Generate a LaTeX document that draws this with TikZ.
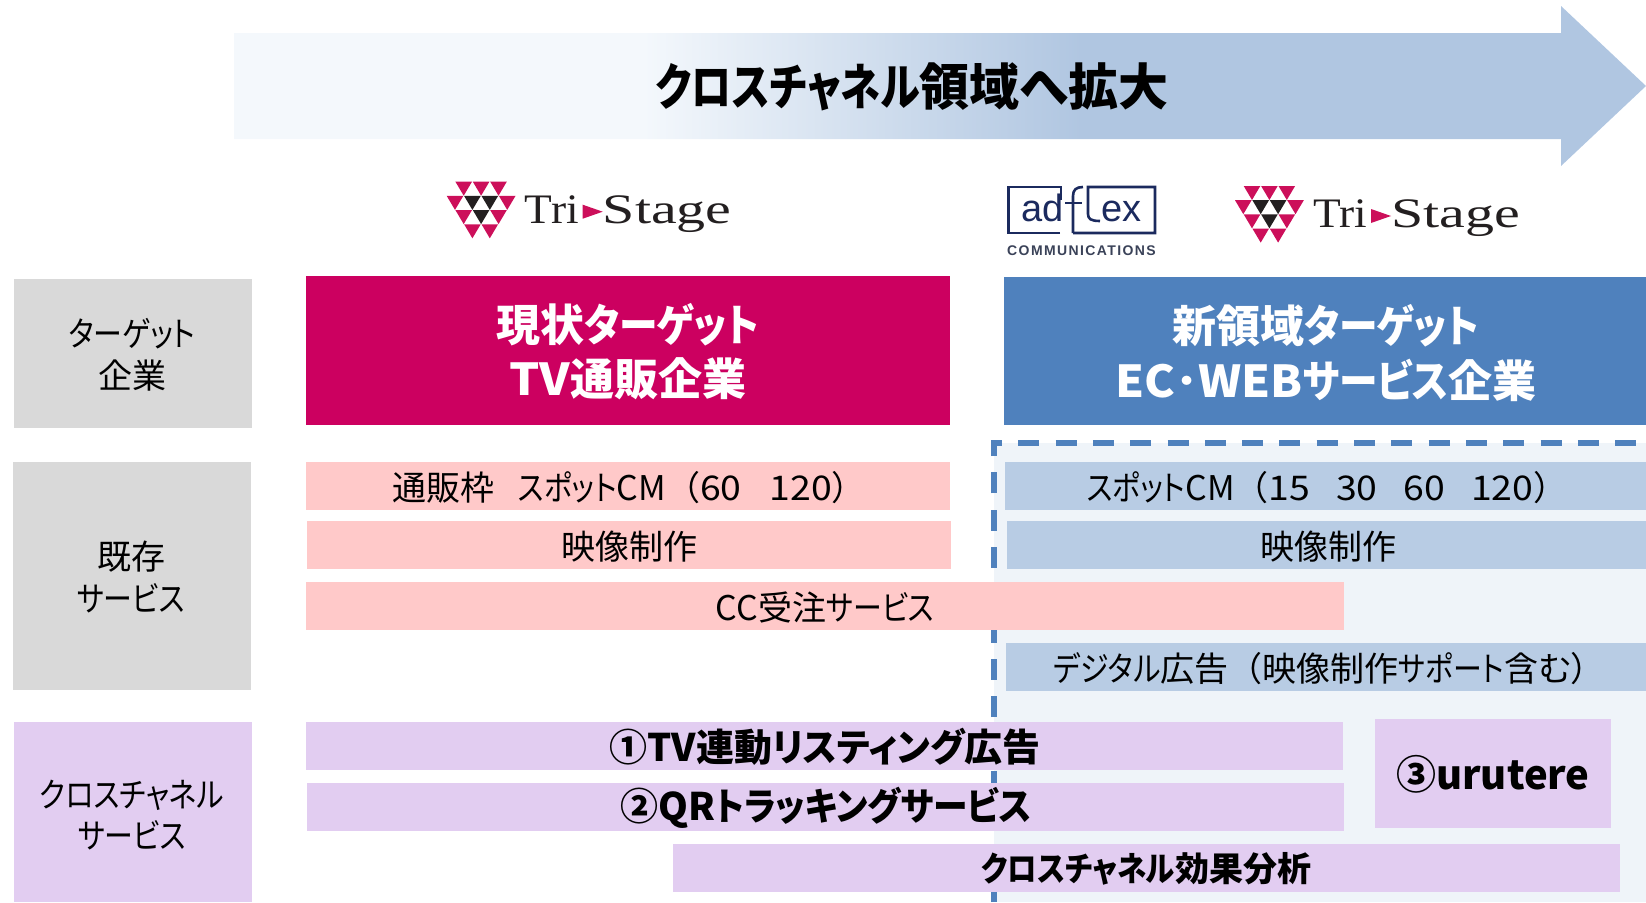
\documentclass[tikz,border=0pt]{standalone}
\usepackage{fontspec}
\setmainfont{Noto Sans CJK JP}[RawFeature=+palt]
\newfontfamily\fw{Noto Sans CJK JP}
\newfontfamily\logoserif{Liberation Serif}
\newfontfamily\logosans{Liberation Sans}
\definecolor{crim}{HTML}{CC0060}
\definecolor{logopink}{HTML}{CC0F5A}
\definecolor{hblue}{HTML}{4F81BD}
\definecolor{rowpink}{HTML}{FFC9C9}
\definecolor{rowblue}{HTML}{B8CCE4}
\definecolor{rowgrey}{HTML}{D9D9D9}
\definecolor{rowpurple}{HTML}{E2CDF1}
\definecolor{palebg}{HTML}{EFF4F9}
\definecolor{navy}{HTML}{1B2A5E}
\definecolor{commgrey}{HTML}{3A4258}
\definecolor{logoblack}{HTML}{231F20}
\definecolor{ga}{HTML}{F4F8FC}
\definecolor{ge}{HTML}{B0C6E1}
\pgfdeclarehorizontalshading{arrowgrad}{100bp}{color(0bp)=(ga); color(25bp)=(ga); color(39.5bp)=(ga); color(55bp)=(ge); color(100bp)=(ge)}
\newcommand{\fs}[1]{\fontsize{#1}{#1}\selectfont}
\newcommand{\kn}[2][.85]{\scalebox{#1}[1]{#2}}
\newcommand{\dg}[1]{\scalebox{1.1}[1]{#1}}
\newcommand{\tri}[3]{\fill[#1] (#2,#3) -- ++(16.6,0) -- ++(-8.3,14) -- cycle;}
\newcommand{\trilogo}[3]{%
\begin{scope}[shift={(#1,#2)}]
\tri{logopink}{8.7}{0}\tri{logopink}{26.1}{0}\tri{logopink}{43.5}{0}
\tri{logopink}{0}{14.2}\tri{logoblack}{17.4}{14.2}\tri{logoblack}{34.8}{14.2}\tri{logopink}{52.2}{14.2}
\tri{logopink}{8.7}{28.4}\tri{logoblack}{26.1}{28.4}\tri{logopink}{43.5}{28.4}
\tri{logopink}{17.4}{42.6}\tri{logopink}{34.8}{42.6}
\node[logotext,anchor=base west] (tri#3) at (78,41.5) {\scalebox{1.08}[1]{Tri}};
\fill[logopink] (136,23) -- (156,30) -- (136,37) -- cycle;
\node[logotext,anchor=base west] (stage#3) at (156,41.5) {\scalebox{1.38}[1]{Stage}};
\end{scope}}
\tikzset{
  x=1pt,y=-1pt,
  lbl/.style={inner sep=0,text=black,font=\fs{34}},
  lblb/.style={inner sep=0,text=black,font=\fs{38}\bfseries},
  hdr/.style={inner sep=0,text=white,font=\fs{44}\bfseries,align=center},
  side/.style={inner sep=0,text=black,font=\fs{34},align=center},
  logotext/.style={inner sep=0,text=logoblack,font=\logoserif\fs{42}},
  sq/.style={line width=2.6pt,draw=navy,line cap=butt,line join=miter},
}
\begin{document}
\begin{tikzpicture}
\useasboundingbox (0,0) rectangle (1646,902);
% pale region and dashes
\fill[palebg] (994,443) rectangle (1646,902);
\draw[hblue,line width=5.5pt,dash pattern=on 21pt off 16.3pt,dash phase=1.6pt] (994,902) -- (994,443) -- (1646,443);
% arrow
\path[shading=arrowgrad] (234,33) -- (1561,33) -- (1561,6) -- (1646,86) -- (1561,166) -- (1561,139) -- (234,139) -- cycle;
\node[inner sep=0,font=\fs{50}\bfseries] (title) at (912,87) {\kn[.8]{クロスチャネル}領域へ拡大};
% logos
\trilogo{446.7}{181.7}{a}
\trilogo{1235}{186}{b}
% adflex
\draw[sq] (1060,233) -- (1008.5,233) -- (1008.5,187) -- (1061,187) -- (1061,200);
\draw[sq] (1073,233) -- (1155,233) -- (1155,187) -- (1088,187) -- (1088,214) .. controls (1088,219) and (1091,221) .. (1100,221);
\draw[sq] (1073,233) -- (1073,196) .. controls (1073,190) and (1076,187) .. (1083,187);
\draw[sq] (1065,203) -- (1082,203);
\node[inner sep=0,anchor=base east,text=navy,font=\logosans\fs{38}] (ad) at (1063.5,221) {ad};
\node[inner sep=0,anchor=base west,text=navy,font=\logosans\fs{38}] (ex) at (1101,221) {ex};
\node[inner sep=0,text=commgrey,font=\logosans\bfseries\fs{14}] (comm) at (1081.5,250.5) {\addfontfeature{LetterSpace=10}COMMUNICATIONS};
% side labels
\fill[rowgrey] (14,279) rectangle (252,428);
\fill[rowgrey] (13,462) rectangle (251,690);
\fill[rowpurple] (14,722) rectangle (252,902);
\node[side] (s1a) at (132,334) {\kn{ターゲット}};
\node[side] (s1b) at (132,376) {企業};
\node[side] (s2a) at (131,557) {既存};
\node[side] (s2b) at (131,598) {\kn{サービス}};
\node[side] (s3a) at (132,795) {\kn{クロスチャネル}};
\node[side] (s3b) at (132,835) {\kn{サービス}};
% headers
\fill[crim] (306,276) rectangle (950,425);
\fill[hblue] (1004,277) rectangle (1646,425);
\node[hdr] (h1a) at (628,325) {現状\kn[.88]{ターゲット}};
\node[hdr] (h1b) at (628,379) {\scalebox{1.08}[1]{TV}通販企業};
\node[hdr] (h2a) at (1326,326) {新領域\kn[.88]{ターゲット}};
\node[hdr] (h2b) at (1326,380) {\scalebox{1.05}[1]{EC･WEB}\kn[.88]{サービス}企業};
% rows
\fill[rowpink] (306,462) rectangle (950,510);
\fill[rowpink] (307,521) rectangle (951,569);
\fill[rowpink] (306,582) rectangle (1344,630);
\fill[rowblue] (1005,462) rectangle (1646,510);
\fill[rowblue] (1007,521) rectangle (1646,569);
\fill[rowblue] (1006,643) rectangle (1646,691);
\node[lbl] (r1) at (629,488) {通販枠\hspace{24pt}\kn{スポット}CM{\fw （}\dg{60}\hspace{28pt}\dg{120}{\fw ）}};
\node[lbl] (r2) at (629,547) {映像制作};
\node[lbl] (r3) at (825,607) {CC受注\kn{サービス}};
\node[lbl] (b1) at (1327,488) {\kn{スポット}CM{\fw （}\dg{15}\hspace{26pt}\dg{30}\hspace{26pt}\dg{60}\hspace{26pt}\dg{120}{\fw ）}};
\node[lbl] (b2) at (1328,547) {映像制作};
\node[lbl] (b3) at (1329,669) {\kn{デジタル}広告{\fw （}映像制作\kn{サポート}含む{\fw ）}};
% purple rows
\fill[rowpurple] (306,722) rectangle (1343,770);
\fill[rowpurple] (307,783) rectangle (1344,831);
\fill[rowpurple] (1375,719) rectangle (1611,828);
\fill[rowpurple] (673,844) rectangle (1620,892);
\node[lblb] (p1) at (825,747) {①TV連動\kn[.95]{リスティング}広告};
\node[lblb] (p2) at (826,808) {②QR\kn[.914]{トラッキングサービス}};
\node[lblb,font=\fs{40}\bfseries] (p3) at (1493,774) {③urutere};
\node[lblb,font=\fs{34}\bfseries] (p4) at (1146,869) {\kn[.865]{クロスチャネル}効果分析};
\end{tikzpicture}
\end{document}
